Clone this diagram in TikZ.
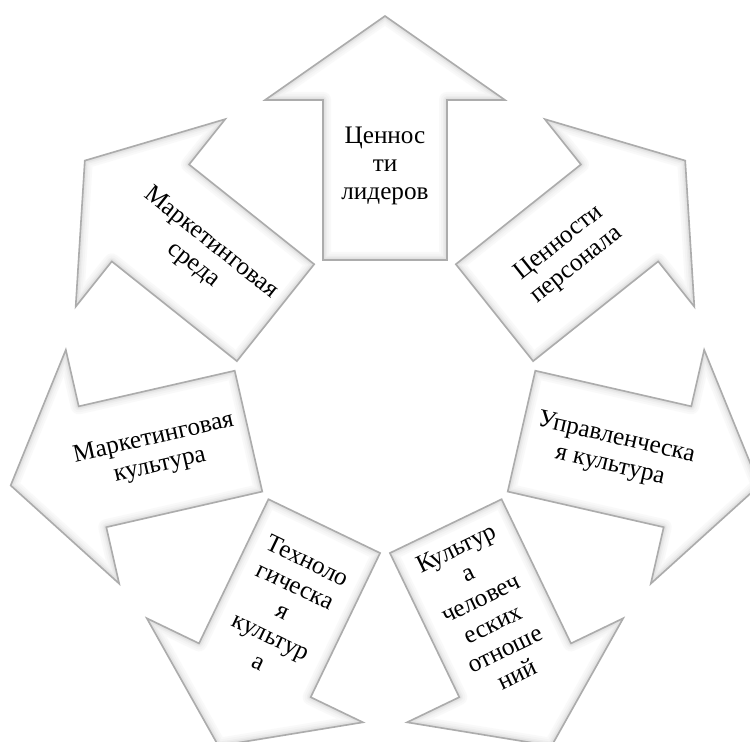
\documentclass[tikz,border=0pt]{standalone}
\usepackage{fontspec}
\setmainfont{Liberation Serif}
\begin{document}
\begin{tikzpicture}[
  x=0.5pt, y=0.5pt,
  arrowpath/.style={insert path={-- (300,-62) -- (300,-120) -- (384,0) -- (300,120) -- (300,62) -- (140,62) -- cycle}},
  arrowtext/.style={align=center, font=\fontsize{12.6}{14}\selectfont, inner sep=0pt}
]
\useasboundingbox (0,0) rectangle (750,742);
\coordinate (c) at (385,342);
% seven arrows round the centre
\foreach \a/\r/\t/\n in {
    90/0/{Ценнос\\ти\\лидеров}/leaders,
    38.57/38.57/{Ценности\\персонала}/staff,
    -12.86/-12.86/{Управленческа\\я культура}/management,
    -64.29/25.71/{Культур\\а\\человеч\\еских\\отноше\\ний}/relations,
    -115.71/-25.71/{Техноло\\гическа\\я\\культур\\а}/technology,
    -167.14/12.86/{Маркетинговая\\культура}/mculture,
    141.43/-38.57/{Маркетинговая\\среда}/menvironment}{
  \begin{scope}[shift={(c)}, rotate=\a]
    \fill[white] (140,-62) [arrowpath];
    \begin{scope}
      \clip (140,-62) [arrowpath];
      \foreach \w/\g in {16/5,12/9,8/14,5/21,2/32}
        \draw[gray!\g, line width=\w*0.5pt, line join=round] (140,-62) [arrowpath];
    \end{scope}
    \draw[gray!65, line width=0.8pt] (140,-62) [arrowpath];
    \node[arrowtext, rotate=\r] (\n) at (234,0) {\t};
  \end{scope}
}
\end{tikzpicture}
\end{document}
